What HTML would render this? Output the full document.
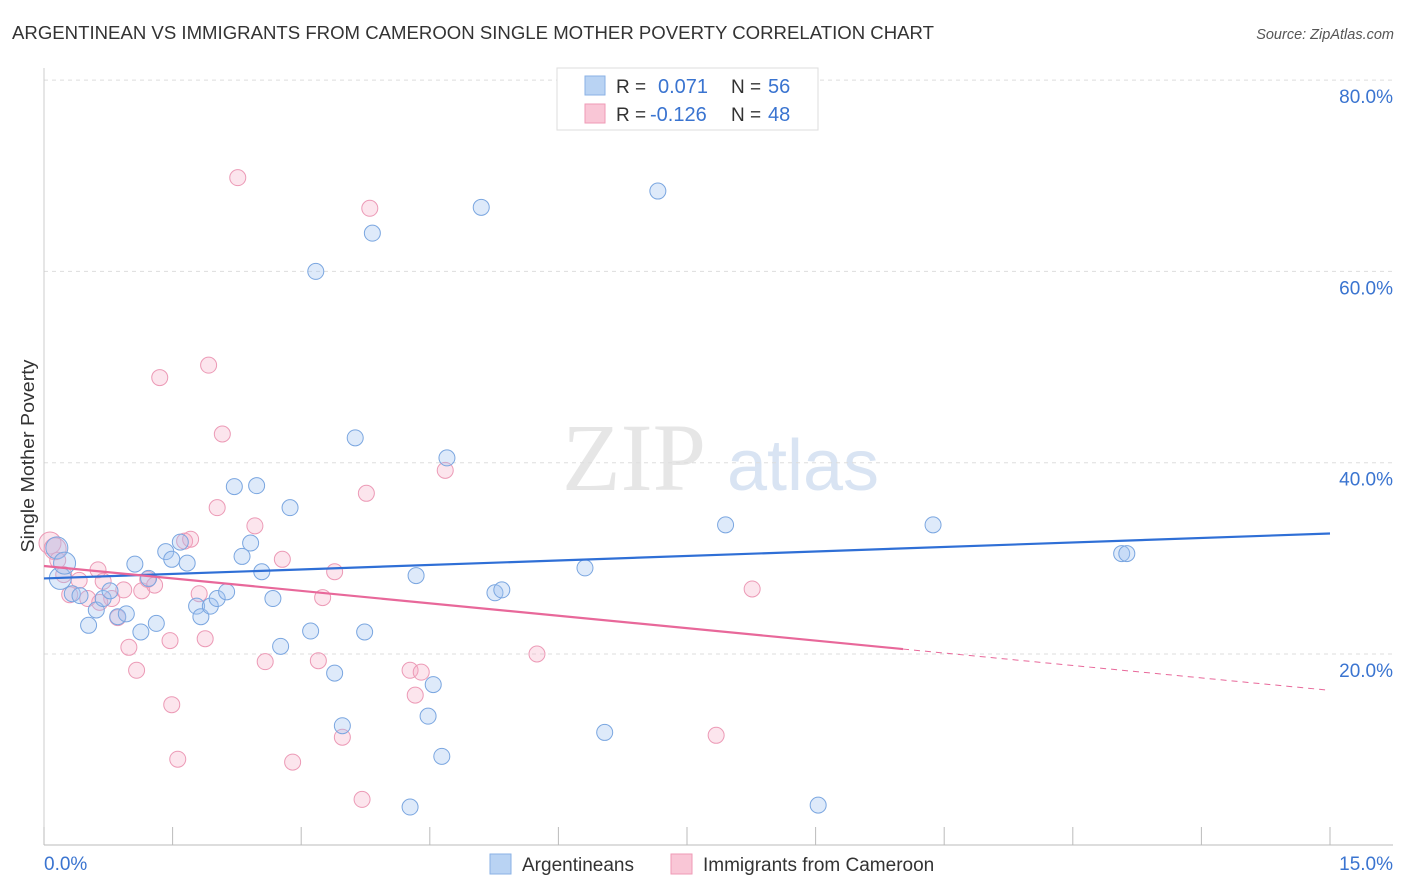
<!DOCTYPE html>
<html><head><meta charset="utf-8">
<style>
body{margin:0;background:#fff;font-family:"Liberation Sans",sans-serif;}
svg{display:block}
</style></head>
<body>
<svg id="chart" width="1406" height="892" xmlns="http://www.w3.org/2000/svg">
<text x="12" y="39" font-size="18" fill="#333" textLength="922" lengthAdjust="spacingAndGlyphs">ARGENTINEAN VS IMMIGRANTS FROM CAMEROON SINGLE MOTHER POVERTY CORRELATION CHART</text>
<text x="1394" y="39" font-size="14.5" fill="#555" font-style="italic" text-anchor="end">Source: ZipAtlas.com</text>
<text transform="translate(34,456) rotate(-90)" font-size="18" fill="#333" text-anchor="middle" textLength="193" lengthAdjust="spacingAndGlyphs">Single Mother Poverty</text>
<g>
<text x="634" y="490" font-size="96" fill="#e6e6e6" font-family="Liberation Serif,serif" text-anchor="middle">ZIP</text>
<text x="803" y="490" font-size="72" fill="#d9e4f3" text-anchor="middle">atlas</text>
</g>
<g id="grid"></g>
<g id="axes"></g>
<g id="marks"></g>
<g>
<rect x="557" y="68" width="261" height="62" fill="#fff" stroke="#ddd"/>
<rect x="585" y="76" width="20" height="19" fill="#b9d3f3" stroke="#8ab1e6"/>
<rect x="585" y="104" width="20" height="19" fill="#f9c6d6" stroke="#ef9ab6"/>
<text x="616" y="93" font-size="19" fill="#333">R = </text><text x="658" y="93" font-size="20" fill="#3a74d0">0.071</text>
<text x="731" y="93" font-size="19" fill="#333">N = </text><text x="768" y="93" font-size="20" fill="#3a74d0">56</text>
<text x="616" y="121" font-size="19" fill="#333">R = </text><text x="650" y="121" font-size="20" fill="#3a74d0">-0.126</text>
<text x="731" y="121" font-size="19" fill="#333">N = </text><text x="768" y="121" font-size="20" fill="#3a74d0">48</text>
</g>
<g>
<rect x="490" y="854" width="21" height="20" fill="#b9d3f3" stroke="#8ab1e6"/>
<text x="522" y="871" font-size="19" fill="#333">Argentineans</text>
<rect x="671" y="854" width="21" height="20" fill="#f9c6d6" stroke="#ef9ab6"/>
<text x="703" y="871" font-size="19" fill="#333">Immigrants from Cameroon</text>
</g>
</svg>
<script>
const blueX=[0.15,0.19,0.24,0.33,0.42,0.52,0.61,0.69,0.77,0.86,0.96,1.06,1.13,1.22,1.31,1.42,1.49,1.59,1.67,1.78,1.83,1.94,2.02,2.13,2.22,2.31,2.41,2.48,2.54,2.67,2.76,2.87,3.11,3.17,3.39,3.48,3.63,3.74,3.83,4.27,4.34,4.48,4.54,4.64,4.70,5.10,5.26,5.34,6.31,6.54,7.16,7.95,9.03,10.37,12.57,12.63];
const blueY=[31.1,27.9,29.5,26.3,26.1,23.0,24.6,25.8,26.6,23.9,24.2,29.4,22.3,27.9,23.2,30.7,29.9,31.7,29.5,25.0,23.9,25.0,25.8,26.5,37.5,30.2,31.6,37.6,28.6,25.8,20.8,35.3,22.4,60.0,18.0,12.5,42.6,22.3,64.0,4.0,28.2,13.5,16.8,9.3,40.5,66.7,26.4,26.7,29.0,11.8,68.4,33.5,4.2,33.5,30.5,30.5];
const pinkX=[0.07,0.13,0.30,0.41,0.51,0.63,0.69,0.79,0.86,0.93,0.99,1.08,1.14,1.21,1.29,1.35,1.47,1.49,1.56,1.64,1.71,1.81,1.88,1.92,2.02,2.08,2.26,2.46,2.58,2.78,2.90,3.20,3.25,3.39,3.48,3.71,3.76,3.80,4.27,4.33,4.40,4.68,5.75,7.84,8.26,0.16,0.23,0.65];
const pinkY=[31.6,31.0,26.2,27.7,25.8,28.8,27.6,25.8,23.8,26.7,20.7,18.3,26.6,27.8,27.2,48.9,21.4,14.7,9.0,31.8,32.0,26.3,21.6,50.2,35.3,43.0,69.8,33.4,19.2,29.9,8.7,19.3,25.9,28.6,11.3,4.8,36.8,66.6,18.3,15.7,18.1,39.2,20.0,11.5,26.8,29.8,28.3,25.4];
const blueTrend=[27.9,32.6];
const pinkTrend=[29.2,16.2];
const pinkSolidEnd=10.02;
const yTicks=[20,40,60,80];
const xTickLabels=["0.0%","15.0%"];
const NS="http://www.w3.org/2000/svg";
const xs=v=>44+v*(1286/15);
const ys=v=>845.3-v*(191.3/20);
function mk(tag,attrs,parent){const e=document.createElementNS(NS,tag);for(const k in attrs)e.setAttribute(k,attrs[k]);parent.appendChild(e);return e;}
const grid=document.getElementById('grid'),axes=document.getElementById('axes'),marks=document.getElementById('marks');
yTicks.forEach(t=>{
 const l=mk('line',{x1:44,x2:1393,y1:ys(t),y2:ys(t),stroke:'#ddd','stroke-dasharray':'4,4'},grid);
 
 
 const tx=mk('text',{x:1393,y:ys(t)+23,'font-size':19,fill:'#3a74d0','text-anchor':'end'},axes);
 tx.textContent=t.toFixed(1)+'%';
 
 
});
const xa=mk('line',{x1:44,x2:1393,y1:845,y2:845,stroke:'#bbb'},axes);


const ya=mk('line',{x1:44,x2:44,y1:68,y2:845,stroke:'#ccc'},axes);


for(let i=0;i<=10;i++){
 const tk=mk('line',{x1:xs(i*1.5),x2:xs(i*1.5),y1:827,y2:845,stroke:'#bbb'},axes);
 
 
}
const xl0=mk('text',{x:44,y:870,'font-size':19,fill:'#3a74d0'},axes);
xl0.textContent=xTickLabels[0];


const xl1=mk('text',{x:1393,y:870,'font-size':19,fill:'#3a74d0','text-anchor':'end'},axes);
xl1.textContent=xTickLabels[1];


pinkX.forEach((x,i)=>{
 const c=mk('circle',{cx:xs(x),cy:ys(pinkY[i]),r:i<2?11:8,fill:'rgba(246,170,196,0.3)',stroke:'#ec9ab6','stroke-width':1},marks);
 
 
});
blueX.forEach((x,i)=>{
 const c=mk('circle',{cx:xs(x),cy:ys(blueY[i]),r:i<3?11:8,fill:'rgba(160,196,240,0.35)',stroke:'#7aa6e0','stroke-width':1},marks);
 
 
});
const bt=mk('line',{x1:xs(0),y1:ys(blueTrend[0]),x2:xs(15),y2:ys(blueTrend[1]),stroke:'#2f6fd6','stroke-width':2.2},marks);


const pAt=v=>pinkTrend[0]+(pinkTrend[1]-pinkTrend[0])*v/15;
const pt=mk('line',{x1:xs(0),y1:ys(pinkTrend[0]),x2:xs(pinkSolidEnd),y2:ys(pAt(pinkSolidEnd)),stroke:'#e8689a','stroke-width':2.2},marks);


const pd=mk('line',{x1:xs(pinkSolidEnd),y1:ys(pAt(pinkSolidEnd)),x2:xs(15),y2:ys(pinkTrend[1]),stroke:'#e8689a','stroke-width':1,'stroke-dasharray':'6,5'},marks);


</script>
</body></html>
